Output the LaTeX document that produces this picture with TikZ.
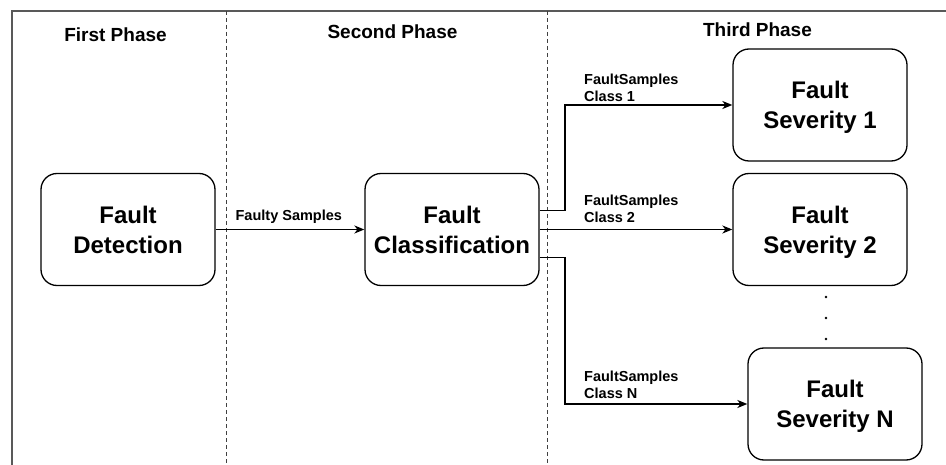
\documentclass[tikz,border=0pt]{standalone}
\usepackage{fontspec}
\setmainfont{Liberation Sans}
\usetikzlibrary{arrows.meta}
\begin{document}
\begin{tikzpicture}[x=1pt,y=-1pt,
  box/.style={draw=black, line width=1.3pt, rounded corners=16pt, minimum width=174pt, minimum height=112pt, align=center, inner sep=0pt, font=\fontsize{24}{30}\selectfont\bfseries},
  arr/.style={draw=black, line width=1.3pt, -{Stealth[length=10pt,width=8pt,inset=3pt]}},
  lbl/.style={font=\fontsize{14.5}{17}\selectfont\bfseries, align=left, inner sep=0pt},
  phase/.style={font=\fontsize{19}{22}\selectfont\bfseries, inner sep=0pt, anchor=base},
  frame/.style={draw=black!65, line width=1.5pt},
  sep/.style={draw=black!75, line width=1pt, dash pattern=on 4pt off 3pt},
  dotnode/.style={circle, fill=black, inner sep=0pt, minimum size=2.8pt}]
\useasboundingbox (0,0) rectangle (946,465);
% frame
\coordinate (fbl) at (12,465);
\coordinate (ftl) at (12,11);
\coordinate (ftr) at (946,11);
\draw[frame] (fbl) -- (ftl) -- (ftr);
% phase separators
\coordinate (s1t) at (226.7,11);
\coordinate (s1b) at (226.7,465);
\coordinate (s2t) at (547.7,11);
\coordinate (s2b) at (547.7,465);
\draw[sep] (s1t) -- (s1b);
\draw[sep] (s2t) -- (s2b);
% phase titles
\node[phase] (p1) at (115.5,41.7) {First Phase};
\node[phase] (p2) at (392.5,38.3) {Second Phase};
\node[phase] (p3) at (757.5,36.7) {Third Phase};
% boxes
\node[box] (det) at (128,229.5) {Fault\\Detection};
\node[box] (cls) at (452,229.5) {Fault\\Classification};
\node[box] (sv1) at (820,105) {Fault\\\smash{Severity 1}};
\node[box] (sv2) at (820,229.5) {Fault\\\smash{Severity 2}};
\node[box] (svn) at (835,404) {Fault\\\smash{Severity N}};
% dots
\node[dotnode] (d1) at (826,297) {};
\node[dotnode] (d2) at (826,318) {};
\node[dotnode] (d3) at (826,339) {};
% connectors
\draw[arr] (det.east) -- (cls.west);
\draw[arr] ([yshift=18.8pt]cls.east) -- ++(25.3,0) |- (sv1.west);
\draw[arr] (cls.east) -- (sv2.west);
\draw[arr] ([yshift=-28.2pt]cls.east) -- ++(25.3,0) |- (svn.west);
% labels
\node[lbl, anchor=base] (lf) at (288.8,221) {Faulty Samples};
\node[lbl, anchor=north west] (l1) at (584,73.3) {FaultSamples\\Class 1};
\node[lbl, anchor=north west] (l2) at (584,195) {FaultSamples\\Class 2};
\node[lbl, anchor=north west] (ln) at (584,371) {FaultSamples\\Class N};
\end{tikzpicture}
\end{document}
